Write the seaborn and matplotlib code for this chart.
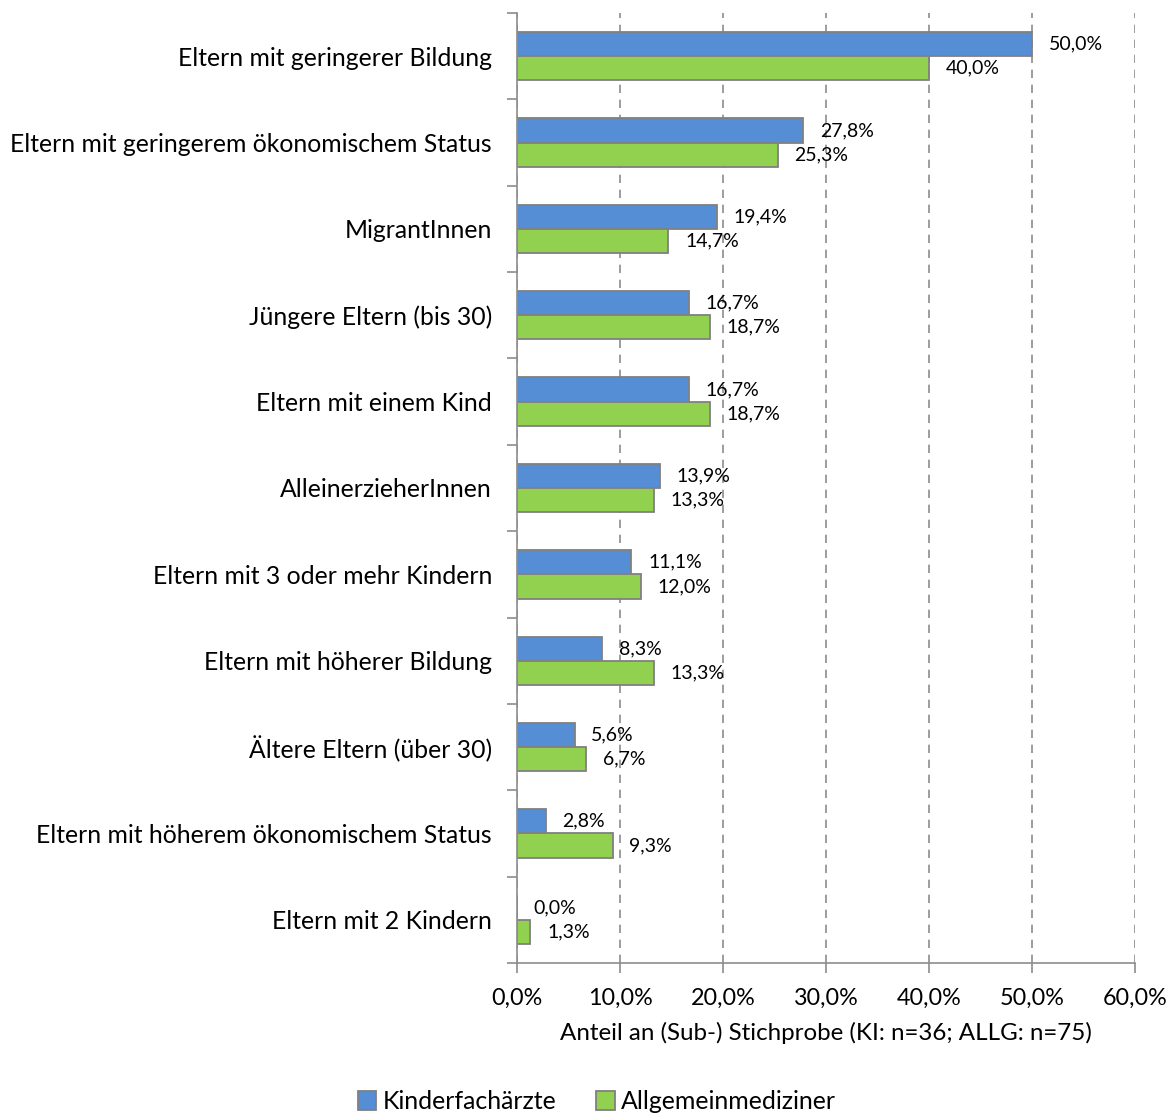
import matplotlib
matplotlib.use("Agg")
import matplotlib.pyplot as plt
import seaborn as sns
import pandas as pd
import numpy as np
from matplotlib.ticker import FuncFormatter, FixedLocator, NullFormatter

categories = [
    "Eltern mit geringerer Bildung",
    "Eltern mit geringerem ökonomischem Status",
    "MigrantInnen",
    "Jüngere Eltern (bis 30)",
    "Eltern mit einem Kind",
    "AlleinerzieherInnen",
    "Eltern mit 3 oder mehr Kindern",
    "Eltern mit höherer Bildung",
    "Ältere Eltern (über 30)",
    "Eltern mit höherem ökonomischem Status",
    "Eltern mit 2 Kindern",
]
kinder = [50.0, 27.8, 19.4, 16.7, 16.7, 13.9, 11.1, 8.3, 5.6, 2.8, 0.0]
allg = [40.0, 25.3, 14.7, 18.7, 18.7, 13.3, 12.0, 13.3, 6.7, 9.3, 1.3]
series = ["Kinderfachärzte", "Allgemeinmediziner"]
colors = ["#558ED5", "#92D050"]
x_ticks = [0, 10, 20, 30, 40, 50, 60]
x_label = "Anteil an (Sub-) Stichprobe (KI: n=36; ALLG: n=75)"

df = pd.DataFrame({
    "Kategorie": categories * 2,
    "Wert": kinder + allg,
    "Gruppe": [series[0]] * len(categories) + [series[1]] * len(categories),
})

sns.set_style("white")
plt.rcParams["font.family"] = ["Lato", "DejaVu Sans"]
plt.rcParams["text.color"] = "black"
plt.rcParams["xtick.color"] = "black"
plt.rcParams["ytick.color"] = "black"
plt.rcParams["axes.labelcolor"] = "black"

fig = plt.figure(figsize=(11.75, 11.19), dpi=100)
ax = fig.add_axes([0.44, 0.1394, 0.526, 0.849])

sns.barplot(
    data=df, y="Kategorie", x="Wert", hue="Gruppe", order=categories,
    hue_order=series, palette=colors, saturation=1, orient="h", width=0.56,
    edgecolor="#808080", linewidth=1.3, ax=ax, legend=True,
)

ax.set_xlim(0, 60)
ax.set_ylim(len(categories) - 0.5, -0.5)
ax.xaxis.set_major_locator(FixedLocator(x_ticks))
ax.xaxis.set_major_formatter(FuncFormatter(lambda v, p: f"{v:.1f}%".replace(".", ",")))
ax.grid(axis="x", color="#8C8C8C", linestyle=(0, (5, 4)), linewidth=1.2)
ax.set_axisbelow(True)

for s in ["top", "right"]:
    ax.spines[s].set_visible(False)
for s in ["left", "bottom"]:
    ax.spines[s].set_color("#8C8C8C")
    ax.spines[s].set_linewidth(1.2)

# category labels in the middle of each band, tick marks at band boundaries
ax.set_yticks(range(len(categories)))
ax.set_yticklabels(categories, fontsize=17.8)
ax.tick_params(axis="y", which="major", length=0, pad=18)
ax.yaxis.set_minor_locator(FixedLocator(np.arange(-0.5, len(categories), 1.0)))
ax.yaxis.set_minor_formatter(NullFormatter())
ax.tick_params(axis="y", which="minor", length=7, width=1.2, color="#8C8C8C", direction="out", left=True)
ax.tick_params(axis="x", which="major", length=7, width=1.2, color="#8C8C8C",
               direction="out", bottom=True, labelsize=16.8, pad=11)
ax.set_ylabel("")
ax.set_xlabel(x_label, fontsize=17.4, labelpad=9)

# value labels to the right of each bar
for container in ax.containers:
    for bar in container:
        w = bar.get_width()
        y = bar.get_y() + bar.get_height() / 2
        ax.annotate(f"{w:.1f}%".replace(".", ","), xy=(w, y), xytext=(12, 0),
                    textcoords="offset points", va="center", ha="left", fontsize=14)

leg = ax.legend(loc="center", bbox_to_anchor=(0.129, -0.146), ncol=2, frameon=False,
                fontsize=17.9, handlelength=0.75, handleheight=0.75, handletextpad=0.25,
                columnspacing=1.6)
for h in leg.legend_handles:
    h.set_edgecolor("#808080")

fig.savefig("out.png", dpi=100, facecolor="white")
